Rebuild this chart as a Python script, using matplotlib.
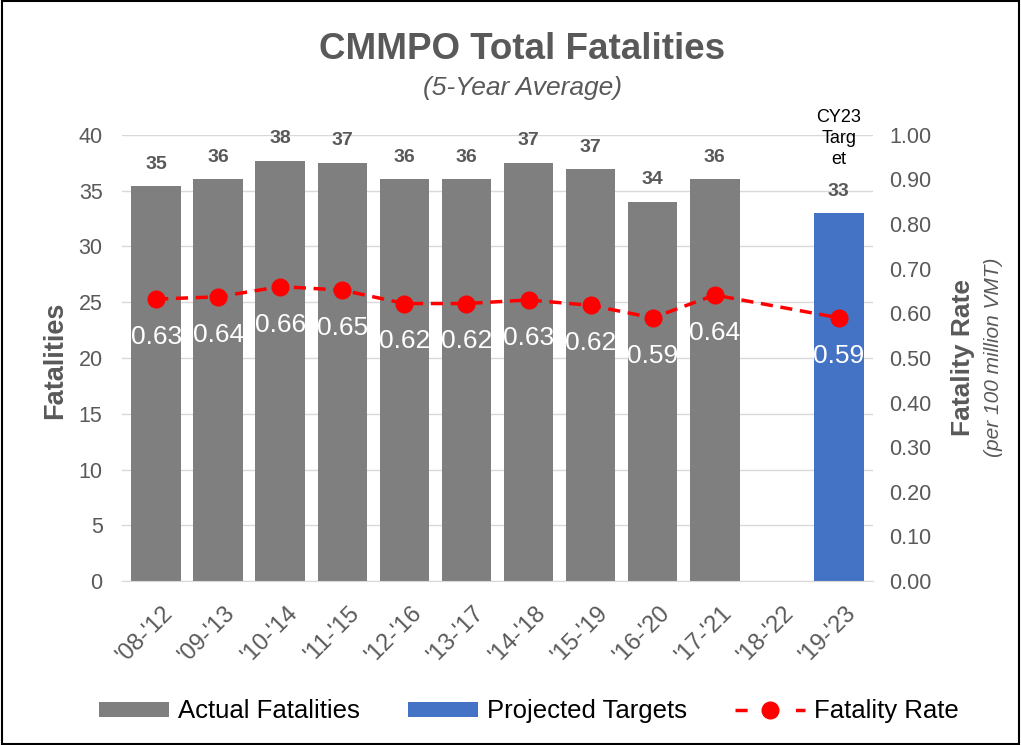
import numpy as np
import matplotlib.pyplot as plt
from matplotlib.lines import Line2D
from matplotlib.patches import Patch
from matplotlib.transforms import ScaledTranslation

plt.rcParams['font.family'] = ['Liberation Sans', 'DejaVu Sans']

periods = ["'08-'12", "'09-'13", "'10-'14", "'11-'15", "'12-'16", "'13-'17",
           "'14-'18", "'15-'19", "'16-'20", "'17-'21", "'18-'22", "'19-'23"]
actual = [35.4, 36.0, 37.7, 37.5, 36.0, 36.0, 37.5, 36.9, 34.0, 36.0, None, None]
actual_lbl = ["35", "36", "38", "37", "36", "36", "37", "37", "34", "36", "", ""]
target = [None] * 11 + [33.0]
target_lbl = "33"
rate = [0.632, 0.637, 0.660, 0.652, 0.622, 0.622, 0.630, 0.618, 0.590, 0.641, None, 0.590]
rate_lbl = ["0.63", "0.64", "0.66", "0.65", "0.62", "0.62", "0.63", "0.62", "0.59", "0.64", "", "0.59"]

GRAY = "#7f7f7f"
BLUE = "#4472c4"
TXT = "#595959"

fig = plt.figure(figsize=(10.21, 7.45), dpi=100)
fig.patches.append(plt.Rectangle((0.002, 0.002), 0.996, 0.996, transform=fig.transFigure,
                                 fill=False, ec="black", lw=1.5))
ax = fig.add_axes([0.1195, 0.22, 0.7355, 0.599])
ax2 = ax.twinx()

x = np.arange(len(periods))
a_vals = [np.nan if v is None else v for v in actual]
t_vals = [np.nan if v is None else v for v in target]
ax.bar(x, a_vals, width=0.8, color=GRAY, zorder=2)
ax.bar(x, t_vals, width=0.8, color=BLUE, zorder=2)

for i, v in enumerate(actual):
    if v is not None:
        ax.text(i, v + 1.2, actual_lbl[i], ha="center", va="bottom", fontsize=14,
                fontweight="bold", color=TXT)
ax.text(11, target[11] + 1.2, target_lbl, ha="center", va="bottom", fontsize=14,
        fontweight="bold", color=TXT)
ax.text(11, 42.3, "CY23\nTarg\net", ha="center", va="top", fontsize=13,
        color="black", linespacing=1.3)

ax.set_ylim(0, 40)
ax.set_yticks(range(0, 41, 5))
ax.set_xlim(-0.55, 11.55)
ax.set_xticks(x)
ax.set_xticklabels(periods, rotation=45, ha="right", rotation_mode="anchor")
ax.tick_params(axis="y", length=0, labelsize=15.5, colors=TXT, pad=14)
ax.tick_params(axis="x", length=0, labelsize=17, colors=TXT, pad=15)
off = ScaledTranslation(0.06, 0, fig.dpi_scale_trans)
for lab in ax.get_xticklabels():
    lab.set_transform(lab.get_transform() + off)
ax.grid(axis="y", color="#d9d9d9", lw=1, zorder=0)
ax.set_axisbelow(True)
for s in ["top", "left", "right"]:
    ax.spines[s].set_visible(False)
ax.spines["bottom"].set_color("#d9d9d9")

rx = [i for i, v in enumerate(rate) if v is not None]
ry = [v for v in rate if v is not None]
ax2.plot(rx, ry, color="#ff0000", ls=(0, (3.5, 2.2)), lw=2.5, marker="o", ms=12,
         zorder=4)
for i, v in enumerate(rate):
    if v is not None:
        ax2.text(i, v - 0.085, rate_lbl[i], ha="center", va="center", fontsize=19,
                 color="white", zorder=5, clip_on=True)
ax2.set_ylim(0, 1.0)
ax2.set_yticks(np.arange(0, 1.01, 0.1))
ax2.set_yticklabels([f"{v:.2f}" for v in np.arange(0, 1.01, 0.1)])
ax2.tick_params(axis="y", length=0, labelsize=15.5, colors=TXT, pad=12)
for s in ["top", "left", "right", "bottom"]:
    ax2.spines[s].set_visible(False)
ax.set_zorder(1)
ax2.set_zorder(2)
ax2.patch.set_visible(False)

fig.text(0.054, 0.517, "Fatalities", rotation=90, ha="center", va="center",
         fontsize=19.5, fontweight="bold", color=TXT)
fig.text(0.943, 0.52, "Fatality Rate", rotation=90, ha="center", va="center",
         fontsize=19, fontweight="bold", color=TXT)
fig.text(0.973, 0.52, "(per 100 million VMT)", rotation=90, ha="center", va="center",
         fontsize=15, style="italic", color=TXT)

fig.text(0.511, 0.933, "CMMPO Total Fatalities", ha="center", va="center",
         fontsize=26.5, fontweight="bold", color=TXT)
fig.text(0.512, 0.882, "(5-Year Average)", ha="center", va="center",
         fontsize=19, style="italic", color=TXT)

handles = [Patch(facecolor=GRAY, label="Actual Fatalities"),
           Patch(facecolor=BLUE, label="Projected Targets"),
           Line2D([], [], color="#ff0000", ls=(0, (3.5, 5.2)), lw=2.5, marker="o", ms=12,
                  label="Fatality Rate")]
fig.legend(handles=handles, loc="center", bbox_to_anchor=(0.518, 0.045), ncol=3,
           frameon=False, fontsize=18.5, handlelength=2.7, handleheight=0.55,
           handletextpad=0.35, columnspacing=1.9, labelcolor="black")

fig.savefig("out.png", dpi=100)
